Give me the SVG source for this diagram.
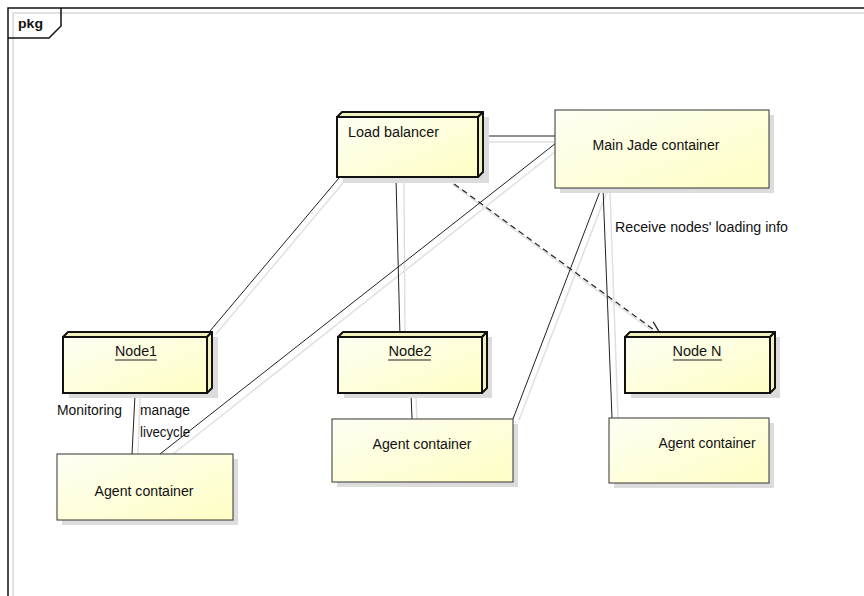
<svg xmlns="http://www.w3.org/2000/svg" width="864" height="596" viewBox="0 0 864 596">
<style>
text{font-family:"Liberation Sans",Arial,sans-serif;font-size:14px;fill:#111}
.lbl{font-size:14px}
.pkg{font-weight:bold;font-size:13px}
.frame{fill:none;stroke:#111;stroke-width:1.5}
.fshadow{fill:none;stroke:#e2e2e2;stroke-width:2}
.conn{fill:none;stroke:#222;stroke-width:1}
.cshadow{fill:none;stroke:#e0e0e0;stroke-width:1.5}
.dash{fill:none;stroke:#222;stroke-width:1.2;stroke-dasharray:6,4}
.front{fill:url(#g);stroke:#111;stroke-width:2}
.side{fill:#f1f1bd;stroke:#111;stroke-width:2;stroke-linejoin:round}
.box{fill:url(#g);stroke:#333;stroke-width:1}
.shadow{fill:#dcdcdc}
.ul{stroke:#222;stroke-width:1}
</style>
<defs>
<linearGradient id="g" x1="0" y1="0" x2="1" y2="1">
<stop offset="0" stop-color="#fefef4"/>
<stop offset="1" stop-color="#fefec4"/>
</linearGradient>
<marker id="open" markerWidth="18" markerHeight="18" refX="15" refY="8" orient="auto" markerUnits="userSpaceOnUse">
<path d="M1,2 L15,8 L1,14" fill="none" stroke="#222" stroke-width="1.3"/>
</marker>
</defs>
<rect width="864" height="596" fill="#fff"/>
<g id="frame">
<path class="fshadow" d="M13,596 V13 H864"/>
<path class="frame" d="M8,596 V8 H864"/>
<path class="frame" d="M8,38 H49 L61,26 V8"/>
<text class="pkg" x="18" y="28" textLength="25" lengthAdjust="spacingAndGlyphs">pkg</text>
</g>
<g id="connectors">
<line class="cshadow" x1="343" y1="183" x2="216" y2="334"/>
<line class="cshadow" x1="404" y1="183" x2="405" y2="337"/>
<line class="cshadow" x1="484" y1="142" x2="555" y2="142"/>
<line class="cshadow" x1="560" y1="148" x2="168" y2="458"/>
<line class="cshadow" x1="607" y1="192" x2="519" y2="420"/>
<line class="cshadow" x1="610" y1="192" x2="618" y2="418"/>
<line class="cshadow" x1="140" y1="397" x2="138" y2="454"/>
<line class="cshadow" x1="416" y1="397" x2="417" y2="419"/>
<line class="cshadow" x1="452" y1="184" x2="662" y2="338"/>
<line class="conn" x1="339" y1="178" x2="210" y2="331"/>
<line class="conn" x1="396" y1="178" x2="400" y2="337"/>
<line class="conn" x1="484" y1="136" x2="555" y2="136"/>
<line class="conn" x1="556" y1="143" x2="160" y2="454"/>
<line class="conn" x1="602" y1="186" x2="513" y2="419"/>
<line class="conn" x1="603" y1="188" x2="612" y2="418"/>
<line class="conn" x1="135" y1="395" x2="132" y2="454"/>
<line class="conn" x1="411" y1="393" x2="412" y2="419"/>
<path class="dash" d="M446,178 L661,335" marker-end="url(#open)"/>
<text class="lbl" x="57" y="415" textLength="65" lengthAdjust="spacingAndGlyphs">Monitoring</text>
<text class="lbl" x="140" y="415" textLength="50" lengthAdjust="spacingAndGlyphs">manage</text>
<text class="lbl" x="140" y="437" textLength="50" lengthAdjust="spacingAndGlyphs">livecycle</text>
<text class="lbl" x="615" y="232" textLength="173" lengthAdjust="spacingAndGlyphs">Receive nodes' loading info</text>
</g>
<g id="load-balancer">
<polygon class="shadow" points="484,117 489,117 489,183 343,183 343,178 478,178 484,172"/>
<rect class="front" x="337" y="117" width="141" height="60"/>
<polygon class="side" points="337,117 342,112 483,112 478,117"/>
<polygon class="side" points="478,117 483,112 483,172 478,177"/>
<text x="348" y="137" textLength="91" lengthAdjust="spacingAndGlyphs">Load balancer</text>
</g>
<g id="main-jade">
<rect class="shadow" x="560" y="115" width="214" height="78"/>
<rect class="box" x="555" y="110" width="214" height="78"/>
<text x="656" y="150" text-anchor="middle" textLength="127" lengthAdjust="spacingAndGlyphs">Main Jade container</text>
</g>
<g id="node1">
<polygon class="shadow" points="213,337 218,337 218,398 69,398 69,393 207,393 213,387"/>
<rect class="front" x="63" y="337" width="144" height="56"/>
<polygon class="side" points="63,337 68,332 212,332 207,337"/>
<polygon class="side" points="207,337 212,332 212,388 207,393"/>
<text x="136" y="356" text-anchor="middle" textLength="42" lengthAdjust="spacingAndGlyphs">Node1</text>
<line class="ul" x1="115" y1="360" x2="157" y2="360"/>
</g>
<g id="node2">
<polygon class="shadow" points="487,337 492,337 492,398 344,398 344,393 482,393 487,387"/>
<rect class="front" x="338" y="337" width="144" height="56"/>
<polygon class="side" points="338,337 343,332 487,332 482,337"/>
<polygon class="side" points="482,337 487,332 487,388 482,393"/>
<text x="410" y="356" text-anchor="middle" textLength="43" lengthAdjust="spacingAndGlyphs">Node2</text>
<line class="ul" x1="388" y1="360" x2="431" y2="360"/>
</g>
<g id="node-n">
<polygon class="shadow" points="775,337 780,337 780,398 631,398 631,393 770,393 775,387"/>
<rect class="front" x="625" y="337" width="145" height="56"/>
<polygon class="side" points="625,337 630,332 775,332 770,337"/>
<polygon class="side" points="770,337 775,332 775,388 770,393"/>
<text x="697" y="356" text-anchor="middle" textLength="49" lengthAdjust="spacingAndGlyphs">Node N</text>
<line class="ul" x1="673" y1="360" x2="722" y2="360"/>
</g>
<g id="agent1">
<rect class="shadow" x="62" y="459" width="176" height="66"/>
<rect class="box" x="57" y="454" width="176" height="66"/>
<text x="144" y="496" text-anchor="middle" textLength="99" lengthAdjust="spacingAndGlyphs">Agent container</text>
</g>
<g id="agent2">
<rect class="shadow" x="337" y="424" width="181" height="63"/>
<rect class="box" x="332" y="419" width="181" height="63"/>
<text x="422" y="449" text-anchor="middle" textLength="99" lengthAdjust="spacingAndGlyphs">Agent container</text>
</g>
<g id="agentN">
<rect class="shadow" x="614" y="423" width="160" height="65"/>
<rect class="box" x="609" y="418" width="160" height="65"/>
<text x="707" y="448" text-anchor="middle" textLength="97" lengthAdjust="spacingAndGlyphs">Agent container</text>
</g>
</svg>
